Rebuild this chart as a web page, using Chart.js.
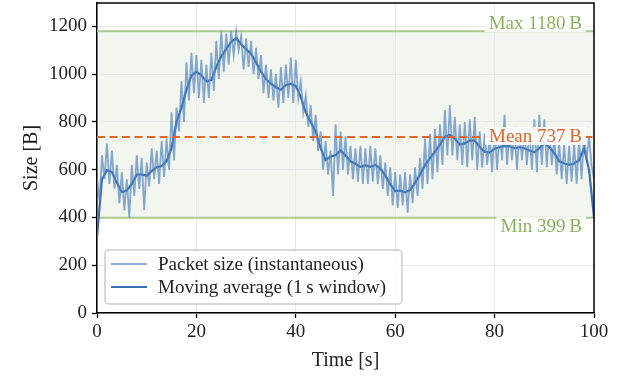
<!DOCTYPE html>
<html>
<head>
<meta charset="utf-8">
<script src="https://cdn.jsdelivr.net/npm/chart.js@4.4.1/dist/chart.umd.min.js"></script>
<style>
  html, body { margin: 0; padding: 0; background: #fff; }
</style>
</head>
<body>
<canvas id="chart" width="621" height="377"></canvas>
<script>
// Packet size trace, sampled every 0.5 s (values in bytes)
const INST_STEP = 0.5;
const instSize = [
  560, 470,  660, 560,  710, 540,  680, 520,  620, 460,
  590, 430,  560, 399,  620, 490,  660, 520,  650, 430,
  630, 530,  690, 560,  680, 540,  720, 570,  730, 600,
  840, 640,  860, 760,  970, 800, 1050, 890, 1090, 920,
  1080, 900, 1060, 880, 1040, 900, 1090, 930, 1140, 980,
  1180, 1010, 1170, 1040, 1180, 1080, 1180, 1100, 1160, 1020,
  1150, 1030, 1140, 1000, 1110, 980, 1080, 920, 1040, 900,
  1020, 890, 1000, 860, 1030, 880, 1040, 900, 1070, 880,
  1060, 900,  970, 840,  910, 780,  870, 720,  830, 680,
  760, 600,  720, 580,  680, 490,  790, 580,  760, 600,
  740, 580,  700, 560,  690, 550,  700, 540,  690, 540,
  700, 550,  690, 540,  660, 520,  630, 490,  610, 450,
  590, 440,  580, 450,  590, 420,  580, 460,  610, 490,
  650, 520,  730, 540,  750, 560,  770, 590,  790, 620,
  850, 660,  870, 660,  820, 640,  790, 620,  800, 610,
  810, 640,  820, 600,  760, 610,  750, 620,  740, 590,
  770, 600,  770, 640,  830, 620,  770, 640,  780, 600,
  770, 640,  760, 620,  770, 600,  810, 590,  830, 620,
  810, 610,  770, 620,  730, 580,  710, 560,  710, 540,
  700, 550,  710, 540,  730, 560,  750, 640,  740, 620,
  560
];

// Moving average (1 s window), one value per second
const AVG_STEP = 1;
const avgSize = [
  320, 560, 598, 590, 545, 506, 514, 540, 580, 580,
  575, 595, 610, 615, 635, 690, 800, 860, 935, 995,
  1010, 995, 970, 975, 1030, 1075, 1105, 1135, 1150, 1125,
  1105, 1085, 1050, 1010, 980, 960, 945, 935, 955, 960,
  950, 905, 840, 800, 760, 690, 640, 655, 660, 680,
  660, 635, 625, 612, 618, 612, 620, 605, 575, 540,
  510, 512, 505, 515, 545, 580, 620, 648, 675, 705,
  738, 745, 730, 705, 710, 722, 722, 695, 675, 672,
  688, 694, 700, 698, 690, 694, 690, 680, 673, 690,
  710, 695, 670, 635, 627, 620, 626, 640, 690, 600,
  400
];

// Summary statistics shown as reference lines
const SIZE_MAX = 1180;
const SIZE_MEAN = 737;
const SIZE_MIN = 399;

const xTicks = [0, 20, 40, 60, 80, 100];
const yTicks = [0, 200, 400, 600, 800, 1000, 1200];

const FONT = "'Liberation Serif', 'Times New Roman', serif";
const GREEN = '#a9c98e';
const GREEN_TEXT = '#86b25c';
const ORANGE = '#e0672b';

const instPoints = instSize.map((v, i) => ({ x: i * INST_STEP, y: v }));
const avgPoints = avgSize.map((v, i) => ({ x: i * AVG_STEP, y: v }));

function drawTag(ctx, text, color, xRight, yMid) {
  ctx.font = '19px ' + FONT;
  const w = ctx.measureText(text).width;
  ctx.fillStyle = 'rgba(255,255,255,0.9)';
  ctx.fillRect(xRight - w - 4, yMid - 9, w + 8, 18);
  ctx.fillStyle = color;
  ctx.textAlign = 'right';
  ctx.textBaseline = 'middle';
  ctx.fillText(text, xRight, yMid + 1);
}

const refLines = {
  id: 'refLines',
  beforeDraw(chart) {
    const { ctx, chartArea: a, scales: { y } } = chart;
    const top = y.getPixelForValue(SIZE_MAX);
    const bottom = y.getPixelForValue(SIZE_MIN);
    ctx.save();
    ctx.fillStyle = '#f3f6ee';
    ctx.fillRect(a.left, top, a.right - a.left, bottom - top);
    ctx.restore();
  },
  beforeDatasetsDraw(chart) {
    const { ctx, chartArea: a, scales: { y } } = chart;
    ctx.save();
    ctx.strokeStyle = GREEN;
    ctx.lineWidth = 2;
    [SIZE_MAX, SIZE_MIN].forEach(v => {
      const py = y.getPixelForValue(v);
      ctx.beginPath();
      ctx.moveTo(a.left, py);
      ctx.lineTo(a.right, py);
      ctx.stroke();
    });
    ctx.restore();
  },
  afterDatasetsDraw(chart) {
    const { ctx, chartArea: a, scales: { y } } = chart;
    ctx.save();
    // mean line
    const my = y.getPixelForValue(SIZE_MEAN);
    ctx.strokeStyle = ORANGE;
    ctx.lineWidth = 2;
    ctx.setLineDash([8, 4.5]);
    ctx.beginPath();
    ctx.moveTo(a.left, my);
    ctx.lineTo(a.right, my);
    ctx.stroke();
    ctx.setLineDash([]);

    // value tags
    const xr = a.right - 12;
    drawTag(ctx, 'Max 1180\u2009B', GREEN_TEXT, xr, y.getPixelForValue(SIZE_MAX) - 8);
    drawTag(ctx, 'Mean 737\u2009B', ORANGE, xr, my - 1);
    drawTag(ctx, 'Min 399\u2009B', GREEN_TEXT, xr, y.getPixelForValue(SIZE_MIN) + 8);

    // legend
    const lx = a.left + 8, ly = a.bottom - 63, lw = 297, lh = 54;
    ctx.beginPath();
    ctx.roundRect(lx, ly, lw, lh, 4);
    ctx.fillStyle = 'rgba(255,255,255,0.85)';
    ctx.fill();
    ctx.strokeStyle = '#cccccc';
    ctx.lineWidth = 1.5;
    ctx.stroke();
    chart.data.datasets.forEach((ds, i) => {
      const rowY = ly + 14 + i * 23;
      ctx.strokeStyle = ds.legendColor;
      ctx.lineWidth = ds.borderWidth;
      ctx.beginPath();
      ctx.moveTo(lx + 6, rowY);
      ctx.lineTo(lx + 42, rowY);
      ctx.stroke();
      ctx.font = '19px ' + FONT;
      ctx.fillStyle = '#222';
      ctx.textAlign = 'left';
      ctx.textBaseline = 'middle';
      ctx.fillText(ds.label, lx + 53, rowY + 1);
    });

    // frame on top and right
    ctx.strokeStyle = '#000';
    ctx.lineWidth = 1.5;
    ctx.beginPath();
    ctx.moveTo(a.left, a.top);
    ctx.lineTo(a.right, a.top);
    ctx.lineTo(a.right, a.bottom);
    ctx.stroke();
    ctx.restore();
  }
};

const ctx = document.getElementById('chart').getContext('2d');
new Chart(ctx, {
  type: 'line',
  data: {
    datasets: [{
      label: 'Packet size (instantaneous)',
      data: instPoints,
      borderColor: 'rgba(82, 132, 192, 0.7)',
      legendColor: '#8fb1d8',
      borderWidth: 1.8,
      pointRadius: 0,
      tension: 0
    }, {
      label: 'Moving average (1\u2009s window)',
      data: avgPoints,
      borderColor: '#3a70b3',
      legendColor: '#3a70b3',
      borderWidth: 2.2,
      pointRadius: 0,
      tension: 0
    }]
  },
  options: {
    responsive: false,
    animation: false,
    layout: { padding: { top: 3, right: 27, left: 0, bottom: 0 } },
    plugins: {
      legend: { display: false },
      tooltip: { enabled: false }
    },
    scales: {
      x: {
        type: 'linear',
        min: xTicks[0],
        max: xTicks[xTicks.length - 1],
        afterBuildTicks(s) { s.ticks = xTicks.map(v => ({ value: v })); },
        ticks: { color: '#222', font: { family: FONT, size: 19 }, padding: 3, maxRotation: 0,
                 callback: v => String(v) },
        grid: { color: '#e8e8e8', lineWidth: 1, tickColor: '#000', tickLength: 5, tickWidth: 1.3 },
        border: { color: '#000', width: 1.5 },
        title: { display: true, text: 'Time [s]', color: '#222', font: { family: FONT, size: 20 }, padding: { top: 0 } },
        afterFit(s) { s.height = 64; s.paddingLeft = 0; s.paddingRight = 0; }
      },
      y: {
        min: 0,
        max: SIZE_MAX * 1.1,
        afterBuildTicks(s) { s.ticks = yTicks.map(v => ({ value: v })); },
        ticks: { color: '#222', font: { family: FONT, size: 19 }, padding: 5,
                 callback: v => String(v) },
        grid: { color: '#e8e8e8', lineWidth: 1, tickColor: '#000', tickLength: 5, tickWidth: 1.3 },
        border: { color: '#000', width: 1.5 },
        title: { display: true, text: 'Size [B]', color: '#222', font: { family: FONT, size: 20 }, padding: { top: 20, bottom: 0 } },
        afterFit(s) { s.width = 97; s.paddingTop = 0; s.paddingBottom = 0; }
      }
    }
  },
  plugins: [refLines]
});
</script>
</body>
</html>
